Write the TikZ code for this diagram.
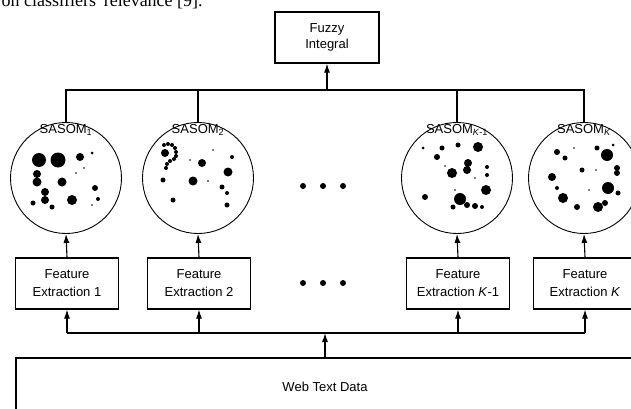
\documentclass[tikz,border=0pt]{standalone}
\usepackage{fontspec}
\setmainfont{Liberation Sans}
\newfontfamily\capfont{Liberation Serif}
\usetikzlibrary{arrows.meta}

\begin{document}
\begin{tikzpicture}[x=1pt,y=-1pt,line width=1.1pt,
  every node/.style={font=\fontsize{13}{18}\selectfont},
  fbox/.style={draw,line width=1.2pt,minimum width=103pt,minimum height=51pt,align=center,inner sep=2pt},
  som/.style={draw,circle,line width=0.9pt,minimum size=111pt,inner sep=0pt},
  arr/.style={-{Latex[length=9pt,width=6pt]}}]
  \useasboundingbox (0,0) rectangle (631,409);

  % Cut-off line of the page above
  \node[anchor=base west,inner sep=0pt,font=\capfont\fontsize{18}{20}\selectfont] (cap) at (1,7) {on classifiers' relevance [9].};

  % Fuzzy integral
  \node[fbox,minimum width=104pt,font=\fontsize{13}{16}\selectfont] (fuzzy) at (327,37.5) {Fuzzy\\Integral};

  % Maps and feature extraction
  \foreach \n/\x/\lab in {1/66/1, 2/198/2, 3/457/{\textit{K}-1}, 4/584/\textit{K}} {
    \node[som] (som\n) at (\x,178) {};
    \node (lab\n) at (\x,130) {SASOM\textsubscript{\lab}};
    \node[fbox] (fe\n) at (\x+1,283.5) {Feature\\Extraction \lab};
  }

  % Units on the maps
  \foreach \dx/\dy/\r in {-27/-18/7, -8/-18/7.5, 14/-21/4, 26/-25/1.5, -29/-4/4, -29/4/4.5, -4/4/4.5,
      -21/14/4, -21/22/4, -33/25/2.5, -14/29/2.5, 6/22/5, 29/10/3, 32/21/2, 10/-5/0.8, 18/-10/0.8, 26/27/0.8}
    \fill ([shift={(\dx,\dy)}]som1.center) circle (\r);
  \foreach \dx/\dy/\r in {-33/-25/4, -34/-33/2, -30/-34/2, -26/-33/2, -23/-30/2, -22/-26/2, -22/-22/2,
      -24/-19/2, -28/-17/2, -31/-14/2, -32/-10/2, 4/-15/4, 30/-6/4.5, 34/-21/2, -5/3/4.5, -35/2/2.5,
      24/9/2.5, 29/15/2, -25/22/2.5, 29/27/2.5, 15/-28/0.8, -8/-18/0.8, 10/3/0.8}
    \fill ([shift={(\dx,\dy)}]som2.center) circle (\r);
  \foreach \dx/\dy/\r in {21/-31/5, 1/-33/2.5, -15/-30/2.5, -20/-21/3, -34/-30/1.5, 11/-15/4, 10/-8/4,
      -5/-5/5, 30/-11/2, 30/-3/2, -32/19/3, 3/21/6, 29/12/5, 10/27/3, 18/28/3, -4/29/2.5, 25/29/2,
      -12/-12/0.8, 18/0/0.8, -2/12/0.8}
    \fill ([shift={(\dx,\dy)}]som3.center) circle (\r);
  \foreach \dx/\dy/\r in {-27/-26/3, -19/-20/2.5, 13/-30/2.5, 23/-23/6, 29/-33/1.5, -2/-8/2.5, -32/-1/4,
      33/-10/3, 33/-5/3, 24/10/6, 34/15/2.5, -27/10/2, -21/20/5, -7/29/3, 14/29/5, 21/25/3,
      5/12/0.8, 12/-8/0.8, -10/-30/0.8}
    \fill ([shift={(\dx,\dy)}]som4.center) circle (\r);

  % Dots between the columns
  \foreach \x in {303,323,343} {
    \fill (\x,186) circle (3);
    \fill (\x,283) circle (3);
  }

  % Web text data
  \node[draw,line width=1.2pt,minimum width=618pt,minimum height=58pt] (web) at (325,387) {Web Text Data};

  % Connectors
  \coordinate (tlevel) at (0,90);
  \coordinate (blevel) at (0,333);
  \draw (som1.north) -- (som1.north |- tlevel) -- (som4.north |- tlevel) -- (som4.north);
  \foreach \n in {2,3}
    \draw (som\n.north) -- (som\n.north |- tlevel);
  \draw[arr] (fuzzy.south |- tlevel) -- (fuzzy.south);
  \draw (fe1.south |- blevel) -- (fe4.south |- blevel);
  \foreach \n in {1,...,4} {
    \draw[arr] (fe\n.south |- blevel) -- (fe\n.south);
    \draw[arr] (fe\n.north) -- (som\n.south);
  }
  \draw[arr] (web.north) -- (web.north |- blevel);
\end{tikzpicture}
\end{document}
